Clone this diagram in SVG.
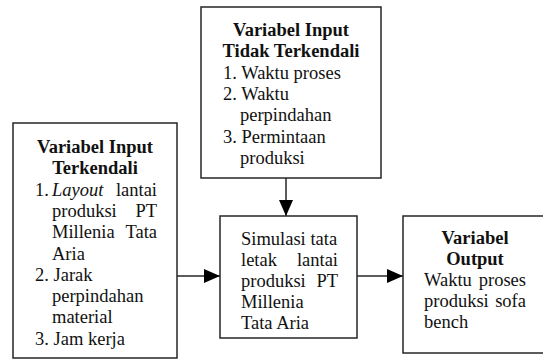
<svg xmlns="http://www.w3.org/2000/svg" width="543" height="360" viewBox="0 0 543 360">
<style>
.box{fill:#fff;stroke:#262626;stroke-width:1.5}
text{font-family:'Liberation Serif','DejaVu Serif','Times New Roman',serif;font-size:18.5px;fill:#111}
.t{font-weight:bold;text-anchor:middle}
.e{text-anchor:end}
.conn{stroke:#262626;stroke-width:1.5;fill:none}
</style>
<defs>
<marker id="ah" markerUnits="userSpaceOnUse" markerWidth="16" markerHeight="14" refX="16" refY="7" orient="auto">
<path d="M0,0 L16,7 L0,14 z" fill="#000"/>
</marker>
</defs>
<rect width="543" height="360" fill="#fff"/>
<g id="connectors">
<line class="conn" x1="286" y1="178" x2="286" y2="216" marker-end="url(#ah)"/>
<line class="conn" x1="177" y1="276" x2="220" y2="276" marker-end="url(#ah)"/>
<line class="conn" x1="357" y1="276" x2="403" y2="276" marker-end="url(#ah)"/>
</g>
<g id="input-terkendali" font-family="Liberation Serif, serif">
<rect class="box" x="13" y="123" width="164" height="235"/>
<text class="t" x="95" y="153">Variabel Input</text>
<text class="t" x="95" y="174.3">Terkendali</text>
<text x="35" y="195.6">1.</text><text x="52" y="195.6" font-style="italic">Layout</text><text class="e" x="157" y="195.6">lantai</text>
<text x="52" y="216.9">produksi</text><text class="e" x="157" y="216.9">PT</text>
<text x="52" y="238.2">Millenia</text><text class="e" x="157" y="238.2">Tata</text>
<text x="52" y="259.5">Aria</text>
<text x="35" y="280.8">2. Jarak</text>
<text x="52" y="302.1">perpindahan</text>
<text x="52" y="323.4">material</text>
<text x="35" y="344.7">3. Jam kerja</text>
</g>
<g id="input-tidak-terkendali">
<rect class="box" x="201" y="7" width="180" height="171"/>
<text class="t" x="291" y="36">Variabel Input</text>
<text class="t" x="291" y="57.3">Tidak Terkendali</text>
<text x="223" y="78.6">1. Waktu proses</text>
<text x="223" y="99.9">2. Waktu</text>
<text x="240" y="121.2">perpindahan</text>
<text x="223" y="142.5">3. Permintaan</text>
<text x="240" y="163.8">produksi</text>
</g>
<g id="simulasi">
<rect class="box" x="220" y="216" width="137" height="122"/>
<text x="241" y="245">Simulasi tata</text>
<text x="241" y="266">letak</text><text class="e" x="338" y="266">lantai</text>
<text x="241" y="287">produksi</text><text class="e" x="338" y="287">PT</text>
<text x="241" y="308">Millenia</text>
<text x="241" y="329">Tata Aria</text>
</g>
<g id="output">
<rect class="box" x="403" y="216" width="145" height="137"/>
<text class="t" x="475" y="244">Variabel</text>
<text class="t" x="475" y="265">Output</text>
<text x="424" y="286">Waktu</text><text class="e" x="526" y="286">proses</text>
<text x="424" y="307">produksi</text><text class="e" x="526" y="307">sofa</text>
<text x="424" y="328">bench</text>
</g>
</svg>
